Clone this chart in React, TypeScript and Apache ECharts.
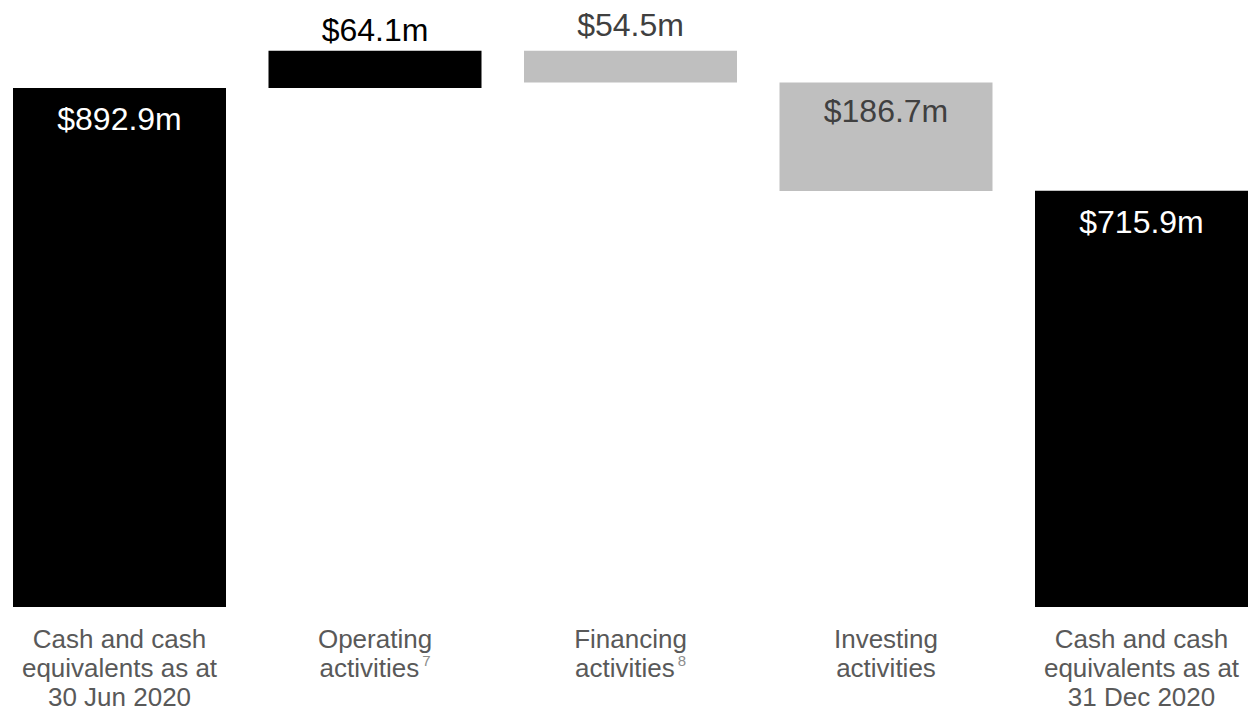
import React, { useEffect, useRef } from "react";
import * as echarts from "echarts";

const categories = [
  "Cash and cash\nequivalents as at\n30 Jun 2020",
  "Operating\nactivities{sup|7}",
  "Financing\nactivities{sup|8}",
  "Investing\nactivities",
  "Cash and cash\nequivalents as at\n31 Dec 2020",
];
// signed movements; first and last are totals
const values = [892.9, 64.1, -54.5, -186.7, 715.9];
const isTotal = [true, false, false, false, true];
const barColors = ["#000000", "#000000", "#BFBFBF", "#BFBFBF", "#000000"];
const labelColors = ["#FFFFFF", "#000000", "#404040", "#404040", "#FFFFFF"];
const labelInside = [true, false, false, true, true];
const labelDistance = [15, 5, 10, 13, 15];

const FONT = "'Liberation Sans', Arial, sans-serif";

export default function App() {
  const ref = useRef<HTMLDivElement>(null);
  useEffect(() => {
    if (!ref.current) return;
    const chart = echarts.init(ref.current, undefined, { renderer: "svg" });
    const base: number[] = [];
    const height: number[] = [];
    let running = 0;
    values.forEach((v, i) => {
      if (isTotal[i]) {
        base.push(0);
        height.push(v);
        running = v;
      } else if (v >= 0) {
        base.push(running);
        height.push(v);
        running += v;
      } else {
        running += v;
        base.push(running);
        height.push(-v);
      }
    });
    chart.setOption({
      animation: false,
      grid: {
        left: -8.25,
        right: -21.25,
        top: 25.7,
        bottom: 104,
        containLabel: false,
        outerBoundsMode: "none",
      },
      xAxis: {
        type: "category",
        data: categories,
        axisLine: { show: false },
        axisTick: { show: false },
        axisLabel: {
          interval: 0,
          margin: 17,
          color: "#595959",
          fontSize: 26,
          lineHeight: 29,
          fontFamily: FONT,
          rich: {
            sup: {
              fontSize: 15,
              color: "#8C8C8C",
              fontFamily: FONT,
              verticalAlign: "top",
              lineHeight: 29,
              padding: [0, 0, 0, 3],
            },
          },
        },
      },
      yAxis: {
        type: "value",
        min: 0,
        max: 1000,
        show: false,
        splitLine: { show: false },
      },
      series: [
        {
          type: "bar",
          stack: "w",
          data: base,
          itemStyle: { color: "transparent" },
          barWidth: 213,
          silent: true,
        },
        {
          type: "bar",
          stack: "w",
          barWidth: 213,
          data: height.map((h, i) => ({
            value: h,
            itemStyle: { color: barColors[i] },
            label: {
              show: true,
              position: labelInside[i] ? "insideTop" : "top",
              distance: labelDistance[i],
              color: labelColors[i],
              fontSize: 32,
              fontFamily: FONT,
              formatter: () => "$" + Math.abs(values[i]).toFixed(1) + "m",
            },
          })),
        },
      ],
    });
    return () => chart.dispose();
  }, []);
  return (
    <div
      ref={ref}
      style={{ position: "absolute", left: 0, top: 0, width: 1248, height: 711 }}
    />
  );
}
